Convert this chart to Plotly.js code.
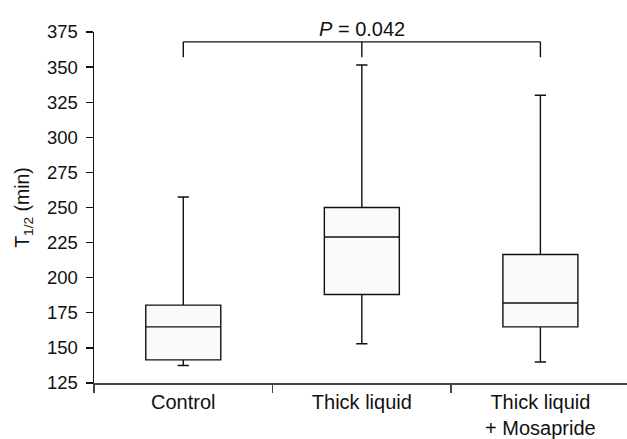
<!DOCTYPE html>
<html>
<head>
<meta charset="utf-8">
<script src="https://cdn.plot.ly/plotly-3.0.1.min.js"></script>
<style>html,body{margin:0;padding:0;background:#fff;}#chart{width:627px;height:439px;}</style>
</head>
<body>
<div id="chart"></div>
<script>
// Data (T1/2 in minutes)
const categories = ["Control", "Thick liquid", "Thick liquid<br>+ Mosapride"];
const lowerWhisker = [137.5, 153, 140];
const q1Values = [141.5, 188, 165];
const medianValues = [165, 229, 182];
const q3Values = [180.5, 250, 216.5];
const upperWhisker = [257.5, 351.5, 330];
const yTicks = [125, 150, 175, 200, 225, 250, 275, 300, 325, 350, 375];
const pValueText = "<i>P</i> = 0.042";
const bracketTop = 368;
const bracketBottom = 357;
const bracketFrom = 0, bracketMid = 1, bracketTo = 2;

const trace = {
  type: "box",
  x: categories,
  q1: q1Values,
  median: medianValues,
  q3: q3Values,
  lowerfence: lowerWhisker,
  upperfence: upperWhisker,
  width: 0.42,
  whiskerwidth: 0.15,
  fillcolor: "#fafafa",
  line: {color: "#111", width: 1.4},
  boxpoints: false,
  hoverinfo: "skip",
  showlegend: false
};

const lineStyle = {color: "#111", width: 1.4};
const shapes = [
  {type: "line", xref: "x", yref: "y", x0: bracketFrom, x1: bracketFrom, y0: bracketBottom, y1: bracketTop, line: lineStyle},
  {type: "line", xref: "x", yref: "y", x0: bracketFrom, x1: bracketTo, y0: bracketTop, y1: bracketTop, line: lineStyle},
  {type: "line", xref: "x", yref: "y", x0: bracketTo, x1: bracketTo, y0: bracketBottom, y1: bracketTop, line: lineStyle},
  {type: "line", xref: "x", yref: "y", x0: bracketMid, x1: bracketMid, y0: bracketBottom, y1: bracketTop, line: lineStyle}
];

const layout = {
  width: 627,
  height: 439,
  margin: {l: 94, r: 0, t: 32, b: 56},
  paper_bgcolor: "#fff",
  plot_bgcolor: "#fff",
  font: {family: "Liberation Sans, Arial, sans-serif", color: "#111"},
  xaxis: {
    type: "category",
    range: [-0.5, 2.485],
    showline: true,
    linecolor: "#444",
    linewidth: 2,
    ticks: "outside",
    tickson: "boundaries",
    ticklen: 8,
    tickcolor: "#444",
    tickwidth: 1.5,
    showgrid: false,
    zeroline: false,
    ticklabelstandoff: 0,
    tickfont: {size: 20, color: "#111"}
  },
  yaxis: {
    range: [125, 375],
    tickvals: yTicks,
    ticktext: yTicks.map(String),
    showline: true,
    linecolor: "#111",
    linewidth: 1.4,
    ticks: "outside",
    ticklen: 7,
    tickwidth: 1.4,
    tickcolor: "#111",
    showgrid: false,
    zeroline: false,
    ticklabelstandoff: 4,
    tickfont: {size: 18.5, color: "#111"},
    title: {text: "T<sub>1/2</sub> (min)", font: {size: 19.5, color: "#111"}, standoff: 12}
  },
  shapes: shapes,
  annotations: [{
    x: bracketMid, y: bracketTop, xref: "x", yref: "y",
    text: pValueText, showarrow: false, yanchor: "bottom", yshift: 0,
    font: {size: 20, color: "#111"}
  }]
};

Plotly.newPlot("chart", [trace], layout, {staticPlot: true, displayModeBar: false});
</script>
</body>
</html>
